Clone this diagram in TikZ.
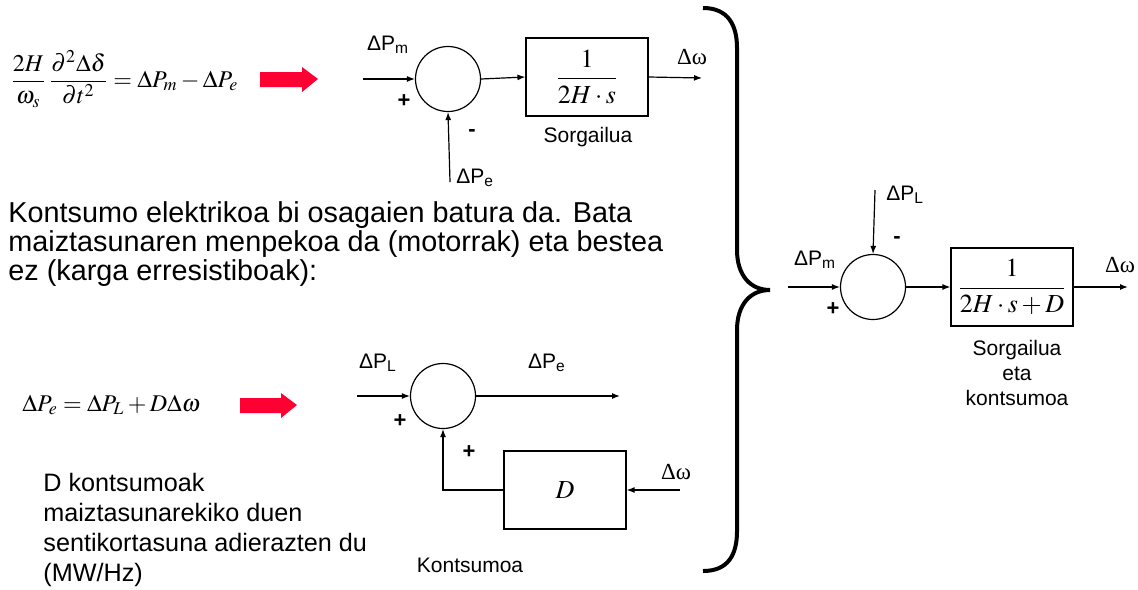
\documentclass[tikz,border=0pt]{standalone}
\usepackage{amsmath}
\usepackage{mathptmx}
\usepackage[no-math]{fontspec}
\setmainfont{Liberation Sans}
\newfontfamily\serif{Liberation Serif}
\usetikzlibrary{arrows.meta}

\definecolor{arrowred}{RGB}{255,0,51}
\newcommand{\dP}[1]{ΔP\textsubscript{#1}}
\newcommand{\dw}{{\serif\fontsize{11.5}{13}\selectfont Δω}}

\tikzset{
  sumnode/.style={draw, circle, minimum size=32.5pt, inner sep=0pt, line width=0.6pt},
  blockbox/.style={draw, minimum width=61pt, minimum height=39pt, inner sep=0pt, line width=0.6pt},
  sig/.style={-{Latex[length=4pt,width=3pt]}, line width=0.6pt},
  lbl/.style={font=\fontsize{10.5}{12}\selectfont, inner sep=0pt},
  sgn/.style={font=\fontsize{11}{12}\selectfont\bfseries, inner sep=0pt},
  eqn/.style={font=\fontsize{12}{14}\selectfont, inner sep=0pt, anchor=west},
  brace/.style={line width=2pt},
}

\begin{document}
\begin{tikzpicture}[x=0.5pt, y=-0.5pt]
  \useasboundingbox (0,0) rectangle (1138,589);

  % swing equation
  \node[eqn] (eqswing) at (10,79) {$\dfrac{2H}{\omega_s}\,\dfrac{\partial^2\Delta\delta}{\partial t^2}=\Delta P_m-\Delta P_e$};
  \fill[arrowred] (260,72) -- (302,72) -- (302,67) -- (318,79) -- (302,92) -- (302,87) -- (260,87) -- cycle;

  % generator block
  \node[sumnode] (sumgen) at (448,79) {};
  \node[blockbox] (gen) at (587,77) {\fontsize{13}{15}\selectfont$\dfrac{1}{2H\cdot s}$};
  \coordinate (pmin) at (363,79);
  \coordinate (pein) at (450,182);
  \coordinate (wout) at (702,78);
  \draw[sig] (pmin) -- (sumgen.west);
  \draw[sig] (pein) -- (sumgen.south);
  \draw[sig] (sumgen.east) -- (gen.west);
  \draw[sig] (gen.east) -- (wout);
  \node[lbl] (lpm) at (388,45) {\dP{m}};
  \node[sgn] at (404,101) {+};
  \node[sgn] at (472,133) {-};
  \node[lbl, anchor=west] (lpe) at (456,178) {\dP{e}};
  \node[lbl] (lw) at (692,57) {\dw};
  \node[lbl] (lgen) at (588,137) {Sorgailua};

  % explanation
  \node[anchor=west, align=left, inner sep=0pt, font=\fontsize{14.4}{14.6}\selectfont] (txtload) at (8,244)
    {Kontsumo elektrikoa bi osagaien batura da. Bata\\maiztasunaren menpekoa da (motorrak) eta bestea\\ez (karga erresistiboak):};

  % load equation
  \node[eqn] (eqload) at (22,405) {$\Delta P_e=\Delta P_L+D\Delta\omega$};
  \fill[arrowred] (240,398) -- (281,398) -- (281,393) -- (297,405) -- (281,418) -- (281,413) -- (240,413) -- cycle;

  % load block
  \node[sumnode] (sumload) at (443,396) {};
  \node[blockbox] (load) at (565,490) {\fontsize{13}{15}\selectfont$D$};
  \coordinate (plin) at (357,396);
  \coordinate (peout) at (620,396);
  \coordinate (win) at (680,490);
  \draw[sig] (plin) -- (sumload.west);
  \draw[sig] (sumload.east) -- (peout);
  \draw[sig] (win) -- (load.east);
  \draw[sig] (load.west) -| (sumload.south);
  \node[lbl] (lpl) at (378,363) {\dP{L}};
  \node[lbl] (lpe2) at (547,363) {\dP{e}};
  \node[sgn] at (400,421) {+};
  \node[sgn] at (469,452) {+};
  \node[lbl] (lw2) at (676,472) {\dw};
  \node[lbl] (lload) at (470,565) {Kontsumoa};

  \node[anchor=west, align=left, inner sep=0pt, font=\fontsize{12.6}{15}\selectfont] (txtD) at (43,530)
    {D kontsumoak\\maiztasunarekiko duen\\sentikortasuna adierazten du\\(MW/Hz)};

  % brace
  \draw[brace] (703,8) .. controls (728,8) and (737,25) .. (737,48) -- (737,250)
    .. controls (737,275) and (750,290) .. (770,290)
    .. controls (750,290) and (737,305) .. (737,330) -- (737,531)
    .. controls (737,555) and (728,571) .. (703,571);

  % combined block
  \node[sumnode] (sumall) at (873,287) {};
  \node[blockbox] (genload) at (1012,287) {\fontsize{13}{15}\selectfont$\dfrac{1}{2H\cdot s+D}$};
  \coordinate (pmin2) at (788,287);
  \coordinate (plin2) at (875,190);
  \coordinate (wout2) at (1128,287);
  \draw[sig] (pmin2) -- (sumall.west);
  \draw[sig] (plin2) -- (sumall.north);
  \draw[sig] (sumall.east) -- (genload.west);
  \draw[sig] (genload.east) -- (wout2);
  \node[lbl] (lpm2) at (815,260) {\dP{m}};
  \node[lbl, anchor=west] (lpl2) at (886,195) {\dP{L}};
  \node[sgn] at (897,240) {-};
  \node[sgn] at (833,309) {+};
  \node[lbl] (lw3) at (1120,265) {\dw};
  \node[lbl, align=center, font=\fontsize{10.5}{12.5}\selectfont] (lgenload) at (1017,373) {Sorgailua\\eta\\kontsumoa};
\end{tikzpicture}
\end{document}
